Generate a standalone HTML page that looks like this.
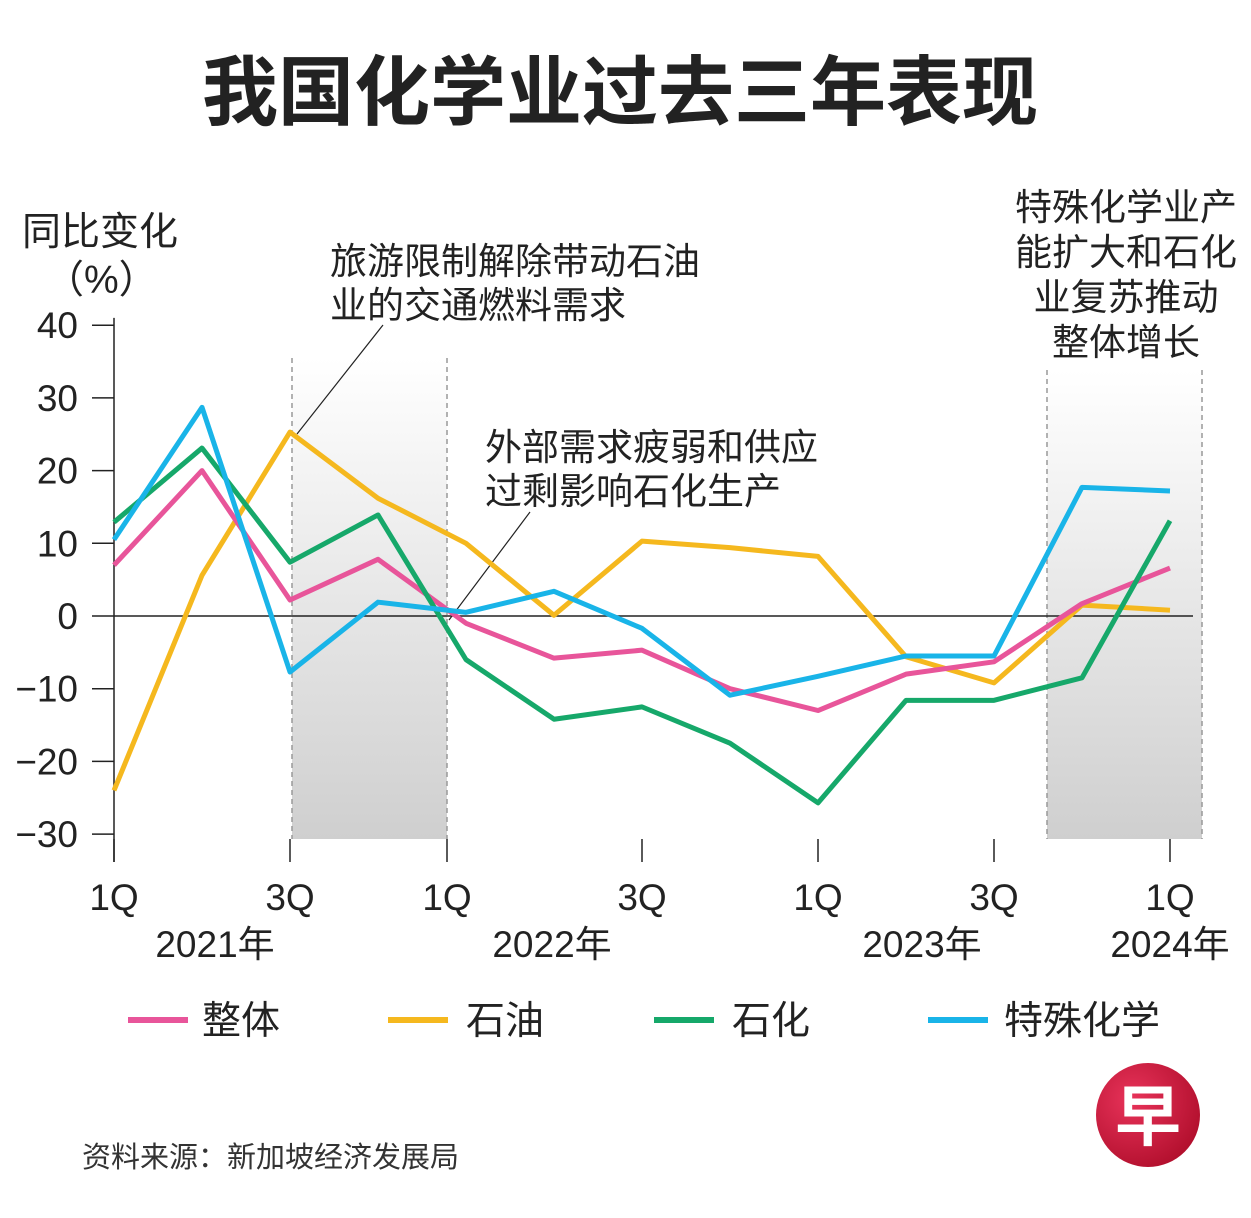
<!DOCTYPE html>
<html><head><meta charset="utf-8"><style>
body{margin:0;background:#fff;}
svg{display:block;font-family:"Liberation Sans","Noto Sans CJK SC",sans-serif;}
</style></head><body>
<svg id="c" width="1251" height="1218" viewBox="0 0 1251 1218">
<defs>
<linearGradient id="g" x1="0" y1="0" x2="0" y2="1"><stop offset="0" stop-color="#fff"/><stop offset="1" stop-color="#cfcfcf"/></linearGradient>
<radialGradient id="lg" cx="0.35" cy="0.35" r="0.7"><stop offset="0" stop-color="#e8335a"/><stop offset="1" stop-color="#b3102e"/></radialGradient>
</defs>
<text x="620" y="119" text-anchor="middle" font-size="76" font-weight="bold" fill="#222">我国化学业过去三年表现</text>
<rect x="292" y="358" width="155" height="481" fill="url(#g)"/>
<rect x="1047" y="370" width="155" height="469" fill="url(#g)"/>
<g stroke="#999" stroke-width="1.5" stroke-dasharray="5,4">
<line x1="292" y1="358" x2="292" y2="839"/><line x1="447" y1="358" x2="447" y2="839"/>
<line x1="1047" y1="370" x2="1047" y2="839"/><line x1="1202" y1="370" x2="1202" y2="839"/>
</g>
<text font-size="39" fill="#222"><tspan x="22" y="245">同比变化</tspan><tspan x="45" y="293">（%）</tspan></text>
<g font-size="37" fill="#222">
<text x="330" y="274">旅游限制解除带动石油</text><text x="330" y="318">业的交通燃料需求</text>
<text x="485" y="460">外部需求疲弱和供应</text><text x="485" y="504">过剩影响石化生产</text>
<text x="1126" y="220" text-anchor="middle">特殊化学业产</text><text x="1126" y="265" text-anchor="middle">能扩大和石化</text>
<text x="1126" y="310" text-anchor="middle">业复苏推动</text><text x="1126" y="355" text-anchor="middle">整体增长</text>
</g>
<line x1="383" y1="325" x2="297" y2="434" stroke="#222" stroke-width="1.2"/>
<line x1="530" y1="512" x2="449" y2="620" stroke="#222" stroke-width="1.2"/>
<g id="axes"></g><g id="lines"></g>
<g font-size="39" fill="#222">
<line x1="128" y1="1020" x2="188" y2="1020" stroke="#e8559a" stroke-width="6"/><text x="202" y="1034">整体</text>
<line x1="388" y1="1020" x2="448" y2="1020" stroke="#f5b81e" stroke-width="6"/><text x="466" y="1034">石油</text>
<line x1="654" y1="1020" x2="714" y2="1020" stroke="#16a86a" stroke-width="6"/><text x="732" y="1034">石化</text>
<line x1="928" y1="1020" x2="988" y2="1020" stroke="#19b4e8" stroke-width="6"/><text x="1004" y="1034">特殊化学</text>
</g>
<text x="82" y="1167" font-size="29" fill="#333">资料来源：新加坡经济发展局</text>
<circle cx="1148" cy="1115" r="52" fill="url(#lg)"/>
<text x="1148" y="1140" text-anchor="middle" font-size="66" font-weight="bold" fill="#fff">早</text>
</svg>
<script>
const quarters=["1Q21","2Q21","3Q21","4Q21","1Q22","2Q22","3Q22","4Q22","1Q23","2Q23","3Q23","4Q23","1Q24"];
const overall=[7,20,2.2,7.8,-1,-5.8,-4.7,-10,-13,-8,-6.3,1.7,6.6];
const petroleum=[-24,5.6,25.3,16.2,10,0.1,10.3,9.4,8.2,-5.6,-9.2,1.5,0.8];
const petrochem=[12.9,23.1,7.4,13.9,-6,-14.2,-12.5,-17.5,-25.7,-11.6,-11.6,-8.5,13.1];
const specialty=[10.5,28.7,-7.7,1.9,0.5,3.4,-1.7,-10.9,-8.3,-5.5,-5.5,17.7,17.2];
const yTicks=[40,30,20,10,0,-10,-20,-30];
const xTickLabels=["1Q","3Q","1Q","3Q","1Q","3Q","1Q"];
const yearLabels=["2021年","2022年","2023年","2024年"];
const NS="http://www.w3.org/2000/svg";
const x=i=>114+i*(1170-114)/(quarters.length-1);
const y=v=>616-v*7.27;
function mk(tag,attrs,parent){const e=document.createElementNS(NS,tag);for(const k in attrs)e.setAttribute(k,attrs[k]);parent.appendChild(e);return e;}
const ax=document.getElementById('axes');
mk('line',{x1:114,y1:y(41),x2:114,y2:862,stroke:'#222','stroke-width':1.5},ax);
mk('line',{x1:114,y1:y(0),x2:1193,y2:y(0),stroke:'#222','stroke-width':1.5},ax);
yTicks.forEach(v=>{
  mk('line',{x1:92,y1:y(v),x2:114,y2:y(v),stroke:'#222','stroke-width':1.5},ax);
  const t=mk('text',{x:78,y:y(v)+13,'text-anchor':'end','font-size':37,fill:'#222'},ax);
  t.textContent=v<0?'\u2212'+(-v):String(v);
  
  
});
xTickLabels.forEach((l,k)=>{
  let px=x(k*2); if(k==2) px=447;
  mk('line',{x1:px,y1:839,x2:px,y2:862,stroke:'#222','stroke-width':1.5},ax);
  const t=mk('text',{x:px,y:910,'text-anchor':'middle','font-size':37,fill:'#222'},ax);
  t.textContent=l;
  
  
});
const yx=[215,552,922,1170];
yearLabels.forEach((l,k)=>{
  const t=mk('text',{x:yx[k],y:957,'text-anchor':'middle','font-size':37,fill:'#222'},ax);
  t.textContent=l;
  
  
});
const lg=document.getElementById('lines');
[[petroleum,'#f5b81e','line-petroleum'],[overall,'#e8559a','line-overall'],[petrochem,'#16a86a','line-petrochem'],[specialty,'#19b4e8','line-specialty']].forEach(([d,c,n])=>{
  const p=mk('polyline',{points:d.map((v,i)=>x(i)+','+y(v)).join(' '),fill:'none',stroke:c,'stroke-width':5,'stroke-linejoin':'round'},lg);
  
  
});
</script>
</body></html>
